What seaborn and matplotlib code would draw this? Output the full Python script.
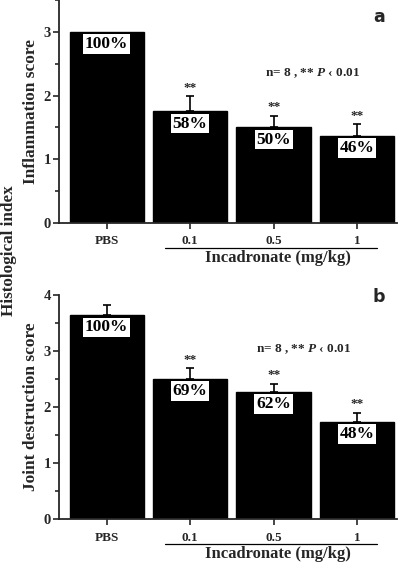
import numpy as np
import seaborn as sns
import matplotlib.pyplot as plt
from matplotlib.ticker import MultipleLocator
import matplotlib.transforms as mtransforms

# data
groups = ["PBS", "0.1", "0.5", "1"]
infl_mean = [3.0, 1.75, 1.50, 1.37]
infl_err = [0.0, 0.24, 0.18, 0.18]
infl_pct = ["100%", "58%", "50%", "46%"]
joint_mean = [3.64, 2.50, 2.27, 1.74]
joint_err = [0.18, 0.19, 0.15, 0.16]
joint_pct = ["100%", "69%", "62%", "48%"]
signif = ["", "**", "**", "**"]

sns.set_style("ticks")
plt.rcParams['font.family'] = ['Liberation Serif', 'DejaVu Serif']
plt.rcParams['font.weight'] = 'bold'
plt.rcParams['mathtext.fontset'] = 'custom'
plt.rcParams['mathtext.it'] = 'Liberation Serif:italic'
plt.rcParams['mathtext.rm'] = 'Liberation Serif:bold'

fig = plt.figure(figsize=(4.02, 5.63), dpi=100)
ax1 = fig.add_axes([0.147, 0.604, 0.841, 0.396])
ax2 = fig.add_axes([0.147, 0.078, 0.841, 0.398])


def panel(ax, means, errs, pcts, ylim, ylabel, letter, letter_y):
    sns.barplot(x=groups, y=means, color="black", width=0.89, ax=ax,
                saturation=1, edgecolor="black")
    xs = np.arange(len(groups))
    for x, m, e, p, s in zip(xs, means, errs, pcts, signif):
        if e > 0:
            ax.errorbar([x], [m], yerr=[[0], [e]], fmt="none", ecolor="black",
                        elinewidth=1.2, capsize=3, capthick=1.2)
        ax.text(x, m - 0.19 * ylim / 3.5, p, ha="center", va="center",
                fontsize=12.5, fontweight="bold", color="black",
                bbox=dict(facecolor="white", edgecolor="none", pad=1.3))
        if s:
            ax.text(x, m + e + 0.04 * ylim / 3.5, s, ha="center", va="bottom",
                    fontsize=9.5, fontweight="bold")
    ax.set_xlim(-0.57, 3.48)
    ax.set_ylim(0, ylim)
    ax.yaxis.set_major_locator(MultipleLocator(1))
    ax.yaxis.set_minor_locator(MultipleLocator(0.5))
    ax.tick_params(axis="both", which="major", direction="out", length=4,
                   width=1.2)
    ax.tick_params(axis="y", which="minor", direction="out", length=3, width=1.2)
    ax.tick_params(axis="y", labelsize=10.5, pad=2)
    ax.tick_params(axis="x", labelsize=9.5, pad=5)
    for lab in ax.get_xticklabels() + ax.get_yticklabels():
        lab.set_fontweight("bold")
    sns.despine(ax=ax)
    ax.spines["left"].set_linewidth(1.3)
    ax.spines["bottom"].set_linewidth(1.3)
    ax.set_ylabel(ylabel, fontsize=12.5, fontweight="bold", labelpad=3)
    ax.set_xlabel("")
    ax.text(0.965, letter_y, letter, transform=ax.transAxes, ha="right",
            va="center", fontsize=12.5, fontweight="bold", family="DejaVu Sans")
    trans = mtransforms.blended_transform_factory(ax.transData, ax.transAxes)
    ax.plot([0.70, 3.24], [-0.112, -0.112], color="black", lw=0.9,
            transform=trans, clip_on=False)
    ax.text(2.05, -0.158, "Incadronate (mg/kg)", transform=trans,
            ha="center", va="center", fontsize=12, fontweight="bold")


panel(ax1, infl_mean, infl_err, infl_pct, 3.5, "Inflammation score", "a", 0.925)
panel(ax2, joint_mean, joint_err, joint_pct, 4.0, "Joint destruction score", "b", 0.99)

note = "n= 8 , ** $\\it{P}$ \u2039 0.01"
ax1.text(2.47, 2.35, note, ha="center", va="center", fontsize=9.5,
         fontweight="bold")
ax2.text(2.36, 3.03, note, ha="center", va="center", fontsize=9.5,
         fontweight="bold")

fig.text(0.022, 0.554, "Histological index", rotation=90, ha="center",
         va="center", fontsize=12.3, fontweight="bold")

fig.savefig("out.png", dpi=100)
